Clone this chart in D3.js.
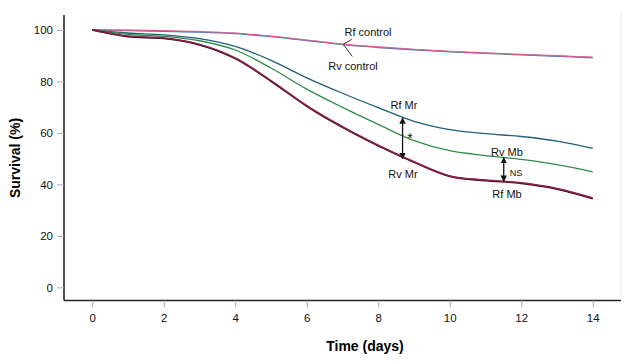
<!DOCTYPE html>
<html><head><meta charset="utf-8">
<script src="https://cdn.jsdelivr.net/npm/d3@7"></script>
<style>body{margin:0;background:#fff}svg{display:block}text{font-family:"Liberation Sans",Arial,sans-serif}</style>
</head><body><svg id="c" width="630" height="364"></svg>
<script>
const days = [0,1,2,3,4,5,6,7,8,9,10,11,12,13,14];
const rfControl = [100,99.9,99.7,99.4,98.8,97.6,96.1,94.5,93.4,92.5,91.7,91.1,90.5,90.0,89.4];
const rvControl = [100,99.8,99.5,99.2,98.6,97.4,95.9,94.3,93.2,92.3,91.5,90.9,90.3,89.8,89.2];
const rfMr = [100,98.8,98.1,96.6,93.6,88.2,81.4,75.4,69.8,64.5,61.3,59.7,58.6,56.8,54.0];
const rvMb = [100,98.3,97.5,95.8,92.2,85.2,77.0,69.9,63.3,57.0,53.1,51.2,49.7,47.7,44.9];
const rvMr = [100,97.6,96.9,94.4,89.1,80.3,70.6,62.4,55.2,48.8,43.3,41.7,40.6,38.4,34.7];
const rfMb = [100,97.4,96.7,94.2,88.9,80.1,70.4,62.2,55.0,48.6,43.1,41.5,40.4,38.2,34.5];
const xTicks = [0,2,4,6,8,10,12,14];
const yTicks = [0,20,40,60,80,100];

const svg = d3.select("#c");
const x = d3.scaleLinear().domain([-0.79,14.79]).range([64,621]);
const y = d3.scaleLinear().domain([-5.1,105.8]).range([300.5,15]);

const xa = svg.append("g").attr("transform","translate(0,300.5)")
  .call(d3.axisBottom(x).tickValues(xTicks).tickSize(7).tickPadding(6).tickFormat(d3.format("d")));
const ya = svg.append("g").attr("transform","translate(64,0)")
  .call(d3.axisLeft(y).tickValues(yTicks).tickSize(7).tickPadding(4).tickFormat(d3.format("d")));
[xa,ya].forEach(a=>{
  a.select(".domain").attr("stroke","#222").attr("stroke-width",1.6);
  a.selectAll(".tick line").attr("stroke","#aaa").attr("stroke-width",1);
  a.selectAll(".tick text").attr("font-size",11.5).attr("fill","#111");
});
xa.select(".domain").attr("d","M64,0H621");
ya.select(".domain").attr("d","M0,15V300.5");
svg.append("line").attr("x1",621).attr("x2",621).attr("y1",12).attr("y2",300).attr("stroke","#eee");

svg.append("text").attr("x",365).attr("y",351).attr("text-anchor","middle")
  .attr("font-size",14).attr("font-weight","bold").text("Time (days)");
svg.append("text").attr("transform","translate(20,158) rotate(-90)").attr("text-anchor","middle")
  .attr("font-size",14).attr("font-weight","bold").text("Survival (%)");

const line = d3.line().x((d,i)=>x(days[i])).y(d=>y(d)).curve(d3.curveCatmullRom.alpha(0.5));
const series = [
  {v:rvControl,c:"#4a78c0",w:1.4},
  {v:rfControl,c:"#e0607e",w:1.2},
  {v:rfMr,c:"#1f5f78",w:1.3},
  {v:rvMb,c:"#2e8b48",w:1.3},
  {v:rfMb,c:"#3a0a1e",w:1.8},
  {v:rvMr,c:"#8e1e46",w:1.5}
];
series.forEach(s=>svg.append("path").attr("d",line(s.v)).attr("fill","none")
  .attr("stroke",s.c).attr("stroke-width",s.w));

const ann = svg.append("g").attr("font-size",11).attr("fill","#111").attr("text-anchor","middle");
ann.append("text").attr("x",368).attr("y",36).text("Rf control");
ann.append("text").attr("x",353).attr("y",70).text("Rv control");
svg.append("path").attr("d","M351.7,39.3L343.3,44.3L352.3,56.5").attr("fill","none").attr("stroke","#222").attr("stroke-width",0.9);
ann.append("text").attr("x",404).attr("y",109).text("Rf Mr");
ann.append("text").attr("x",403).attr("y",178).text("Rv Mr");
ann.append("text").attr("x",507).attr("y",156).text("Rv Mb");
ann.append("text").attr("x",507).attr("y",198).text("Rf Mb");
ann.append("text").attr("x",410).attr("y",143).attr("font-size",14).text("*");
ann.append("text").attr("x",516).attr("y",176).attr("font-size",9).text("NS");

const defs = svg.append("defs");
defs.append("marker").attr("id","ah").attr("viewBox","0 0 10 10").attr("refX",9).attr("refY",5)
  .attr("markerWidth",5).attr("markerHeight",5).attr("orient","auto-start-reverse")
  .append("path").attr("d","M0,0L10,5L0,10z").attr("fill","#111");
function arrow(day,v1,v2){
  svg.append("line").attr("x1",x(day)).attr("x2",x(day)).attr("y1",y(v1)).attr("y2",y(v2))
    .attr("stroke","#111").attr("stroke-width",1.3)
    .attr("marker-start","url(#ah)").attr("marker-end","url(#ah)");
}
arrow(8.68,65.8,50.0);
arrow(11.51,50.4,41.2);
</script></body></html>
